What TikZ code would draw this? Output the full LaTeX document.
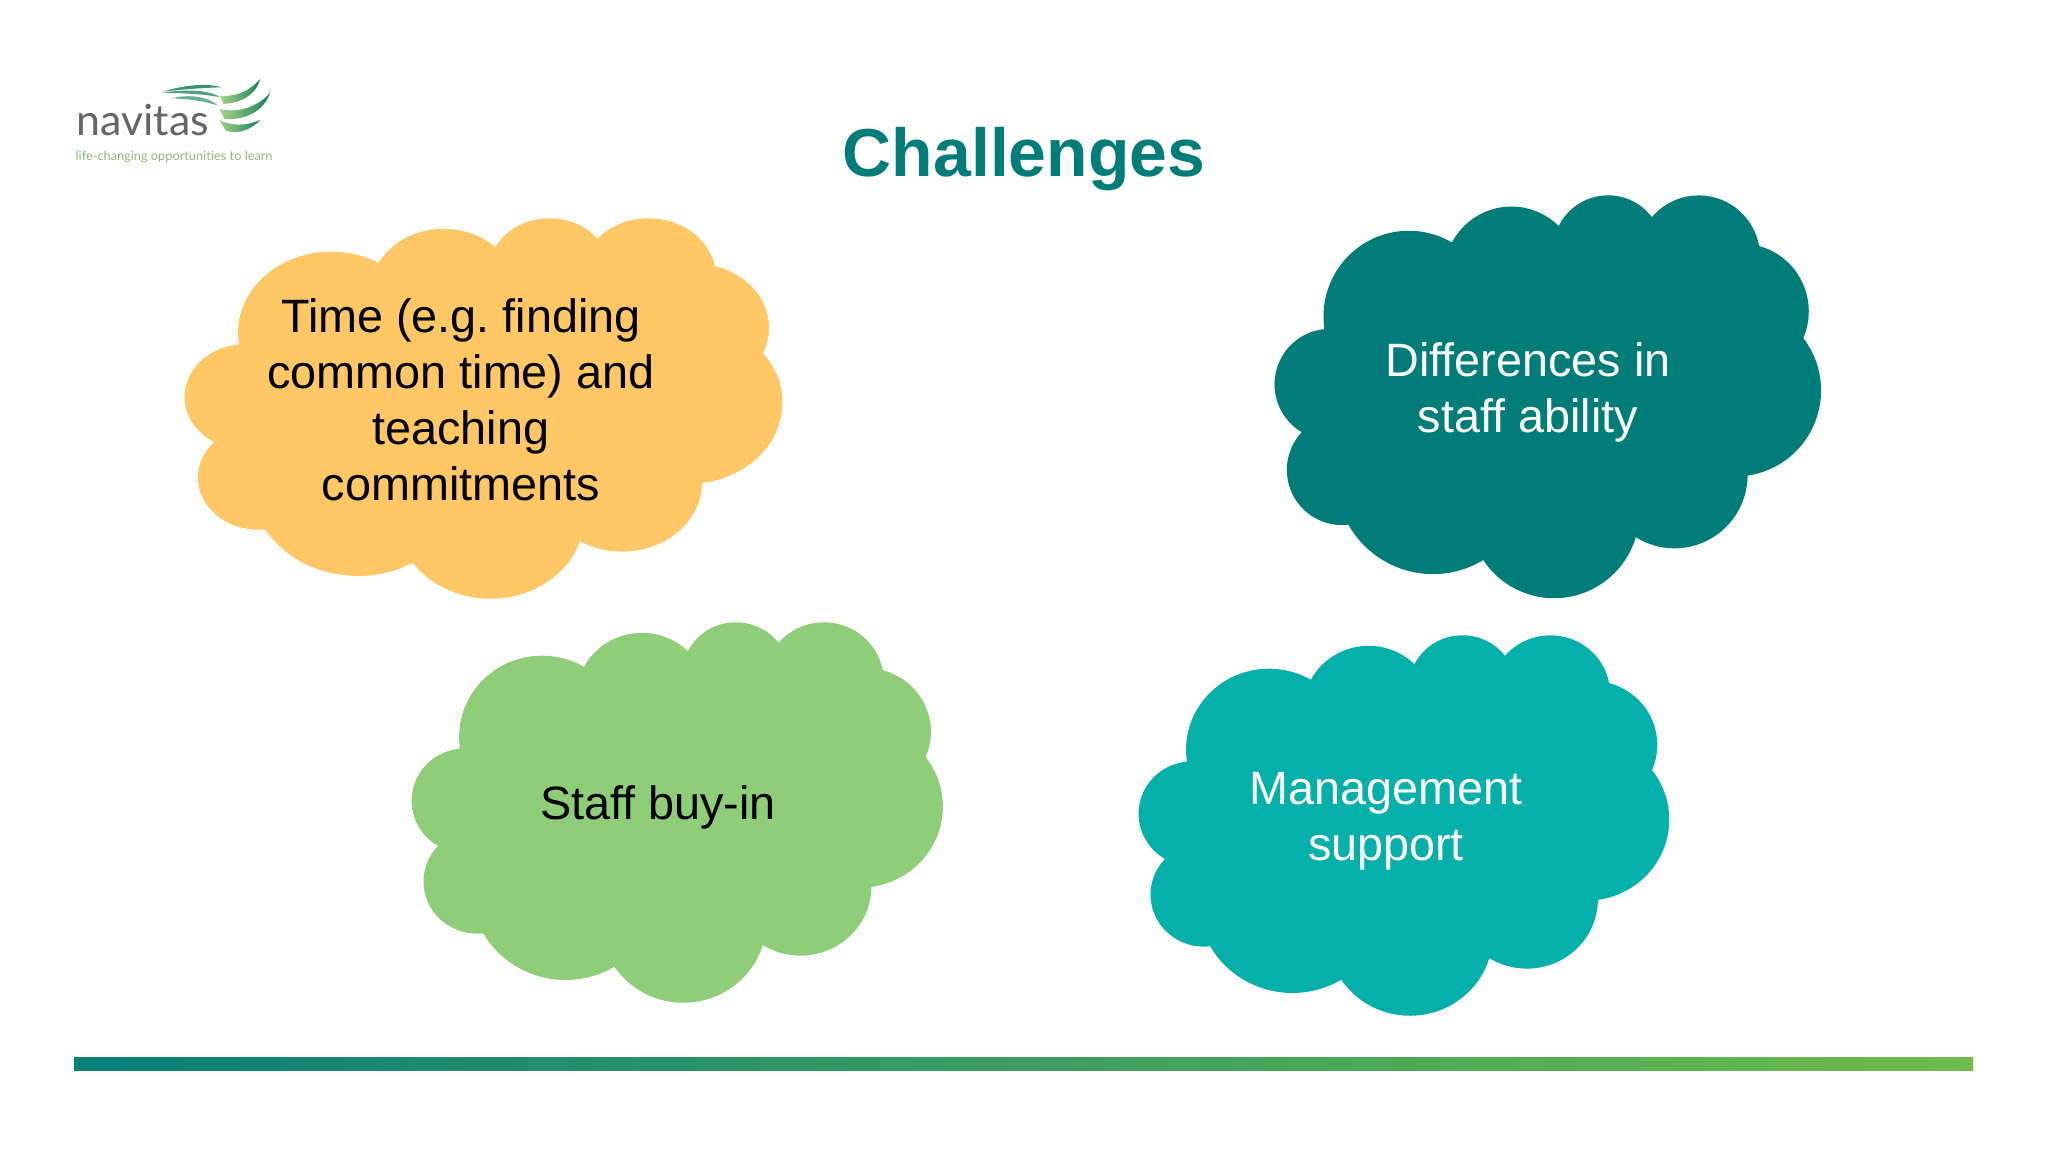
\documentclass[tikz,border=0pt]{standalone}
\usepackage{fontspec}
\setmainfont{Liberation Sans}
\newfontfamily\logofont{Lato}
\usetikzlibrary{calc}

\definecolor{titleteal}{HTML}{007D78}
\definecolor{cloudorange}{HTML}{FFC766}
\definecolor{cloudgreen}{HTML}{8FCE78}
\definecolor{cloudcyan}{HTML}{05AFAA}
\definecolor{barleft}{HTML}{0A7F78}
\definecolor{barright}{HTML}{6DBB4B}
\definecolor{logogray}{HTML}{666666}
\definecolor{logogreen}{HTML}{8DBB78}
\definecolor{wingdark}{HTML}{17805A}
\definecolor{winglight}{HTML}{A4D484}

\tikzset{
  cloudtext/.style={font=\frenchspacing\fontsize{13.3}{15.9}\selectfont,align=center},
  wing/.style={left color=winglight,right color=wingdark,draw=none},
}

%% lobed outline, drawn in a 43200 x 43200 box
\newcommand{\cloudblob}[1]{%
  \fill[#1] (3900,14370)
    \foreach \rx/\ry/\st/\sw [evaluate=\st as \ta using {atan2(\rx*sin(\st),\ry*cos(\st))},
        evaluate=\sw as \tb using {atan2(\rx*sin(\st+\sw),\ry*cos(\st+\sw))},
        evaluate=\tb as \dl using {mod(\tb-\ta+720,360)}] in
      {6753/9190/-190.487/123.781, 5333/7267/-144.102/89.945,
       4365/5945/-145.808/99.723,  4857/6595/-130.986/117.242,
       5333/7273/-78.709/109.027,  6775/9220/-46.267/130.269,
       5785/7867/0.625/114.033,    6752/9215/22.452/115.173,
       7720/10543/66.243/75.711,   4360/5918/-274.942/146.736,
       4345/5945/-246.829/152.519}
    {arc[x radius=\rx,y radius=\ry,start angle=\ta,delta angle=\dl]}
    -- cycle;}

\begin{document}
\begin{tikzpicture}[x=0.01cm,y=-0.01cm]
\useasboundingbox (0,0) rectangle (2048,1152);

%% ---------------- logo ----------
\begin{scope}[shift={(50,50)},x=0.00333cm,y=-0.00333cm]
  \shade[wing] (512,138) .. controls (560,140) and (600,125) .. (632,86)
     .. controls (618,138) and (570,160) .. (520,162) -- cycle;
  \shade[wing] (510,178) .. controls (570,190) and (625,170) .. (662,128)
     .. controls (642,184) and (590,210) .. (525,208) -- cycle;
  \shade[wing] (508,210) .. controls (550,230) and (590,228) .. (632,210)
     .. controls (600,244) and (560,254) .. (528,242) -- cycle;
  %% feathers
  \fill[wingdark!85] (340,125) .. controls (400,106) and (470,98) .. (515,112)
     .. controls (460,114) and (400,118) .. (340,125) -- cycle;
  \fill[wingdark!75] (335,128) .. controls (400,120) and (470,116) .. (512,142)
     .. controls (460,132) and (400,130) .. (335,128) -- cycle;
  \fill[wingdark!65] (365,145) .. controls (420,133) and (470,138) .. (505,167)
     .. controls (460,152) and (410,147) .. (365,145) -- cycle;
\end{scope}
\node[font=\logofont\fontsize{12.2}{14}\selectfont,text=logogray,anchor=base west,inner sep=0pt]
   (navitas) at (76,136) {navitas};
\node[font=\logofont\fontsize{3.63}{5}\selectfont,text=logogreen,anchor=base west,inner sep=0pt]
   (tagline) at (75,161) {life-changing opportunities to learn};

%% ---------------- title ----------
\node[font=\fontsize{19.3}{23}\selectfont\bfseries,text=titleteal] (title) at (1024,159) {Challenges};

%% ---------------- clouds ----------
\begin{scope}[shift={(185,217)},xscale=0.01382,yscale=0.0088]
  \cloudblob{cloudorange}
\end{scope}
\node[cloudtext,text=black] (time) at (461,400)
   {Time (e.g. finding\\common time) and\\teaching\\commitments};

\begin{scope}[shift={(1275,194)},xscale=0.01264,yscale=0.00933]
  \cloudblob{titleteal}
\end{scope}
\node[cloudtext,text=white] (ability) at (1528,392) {Differences in\\staff ability};

\begin{scope}[shift={(412,621)},xscale=0.01229,yscale=0.0088]
  \cloudblob{cloudgreen}
\end{scope}
\node[cloudtext,text=black] (buyin) at (658,807) {Staff buy-in};

\begin{scope}[shift={(1139,634)},xscale=0.01227,yscale=0.0088]
  \cloudblob{cloudcyan}
\end{scope}
\node[cloudtext,text=white] (support) at (1386,821) {Management\\support};

%% ---------------- bar ----------
\shade[left color=barleft,right color=barright] (74,1057) rectangle (1973,1070);

\end{tikzpicture}
\end{document}
